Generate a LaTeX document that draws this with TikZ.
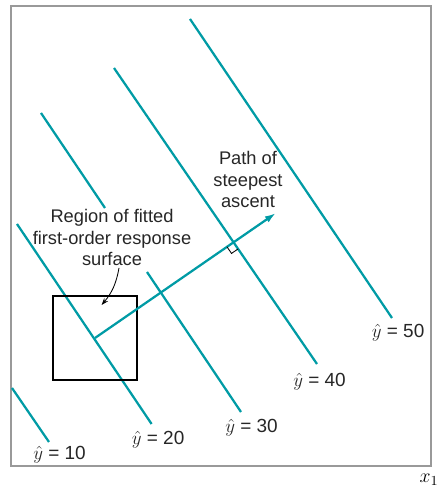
\RequirePackage{fix-cm}
\documentclass[tikz,border=0pt]{standalone}
\usepackage{fontspec}
\setmainfont{Liberation Sans}
\usetikzlibrary{arrows.meta,calc}
\definecolor{contourteal}{RGB}{0,155,165}
\begin{document}
\begin{tikzpicture}[
    contourline/.style={line width=1.6pt, contourteal},
    note/.style={font=\fontsize{13}{15.2}\selectfont, align=center, text=black!85},
    levellabel/.style={font=\fontsize{13.5}{16}\selectfont, anchor=base west, inner sep=0pt, text=black!85}
  ]
    \useasboundingbox (0,0) rectangle (10.9,12.25);

    % Frame of the x1 design space
    \draw[black!40, line width=0.9pt] (0.275,0.6) rectangle (10.775,12.1);

    % Contours of the fitted first-order model
    \coordinate (c10a) at (0.3,2.55);    \coordinate (c10b) at (1.225,1.2);
    \coordinate (c20a) at (0.425,6.65);  \coordinate (c20b) at (3.79,1.65);
    \coordinate (c30a) at (1.025,9.425); \coordinate (c30m) at (2.625,7.05);
    \coordinate (c30n) at (3.675,5.45);  \coordinate (c30b) at (6.025,1.95);
    \coordinate (c40a) at (2.85,10.55);  \coordinate (c40b) at (7.925,3.15);
    \coordinate (c50a) at (4.75,11.775); \coordinate (c50b) at (9.8,4.3);
    \draw[contourline] (c10a) -- (c10b);
    \draw[contourline] (c20a) -- (c20b);
    \draw[contourline] (c30a) -- (c30m);
    \draw[contourline] (c30n) -- (c30b);
    \draw[contourline] (c40a) -- (c40b);
    \draw[contourline] (c50a) -- (c50b);

    % Region of the fitted surface
    \draw[black, line width=0.8pt] (1.325,2.75) rectangle (3.425,4.85);

    % Path of steepest ascent, square to the contours
    \coordinate (pstart) at (2.375,3.8);
    \coordinate (ptip) at (6.9,6.925);
    \draw[contourline, -{Latex[length=8pt,width=5pt]}] (pstart) -- (ptip);
    \coordinate (cross) at (intersection of pstart--ptip and c40a--c40b);
    \coordinate (ma) at ($(cross)!0.2cm!(pstart)$);
    \coordinate (mb) at ($(cross)!0.2cm!(c40b)$);
    \draw[black, line width=0.6pt] (ma) -- ($(ma)+(mb)-(cross)$) -- (mb);

    % Notes
    \node[note] (region) at (2.8,6.31) {Region of fitted\\first-order response\\surface};
    \coordinate (rtarget) at (2.54,4.625);
    \draw[black, line width=0.6pt, -{Stealth[length=5pt,width=3.5pt]}]
        ([xshift=5pt,yshift=2pt]region.south) to[bend left=15] (rtarget);
    \node[note] (ascent) at (6.2,7.76) {Path of\\steepest\\ascent};

    % Contour labels
    \node[levellabel] (y10) at (0.825,0.75) {\(\hat{y}\) = 10};
    \node[levellabel] (y20) at (3.29,1.14) {\(\hat{y}\) = 20};
    \node[levellabel] (y30) at (5.625,1.425) {\(\hat{y}\) = 30};
    \node[levellabel] (y40) at (7.325,2.58) {\(\hat{y}\) = 40};
    \node[levellabel] (y50) at (9.29,3.8) {\(\hat{y}\) = 50};
    \node[inner sep=0pt, anchor=base, font=\fontsize{14}{16}\selectfont] (x1) at (10.725,0.175) {\(x_1\)};
\end{tikzpicture}
\end{document}
